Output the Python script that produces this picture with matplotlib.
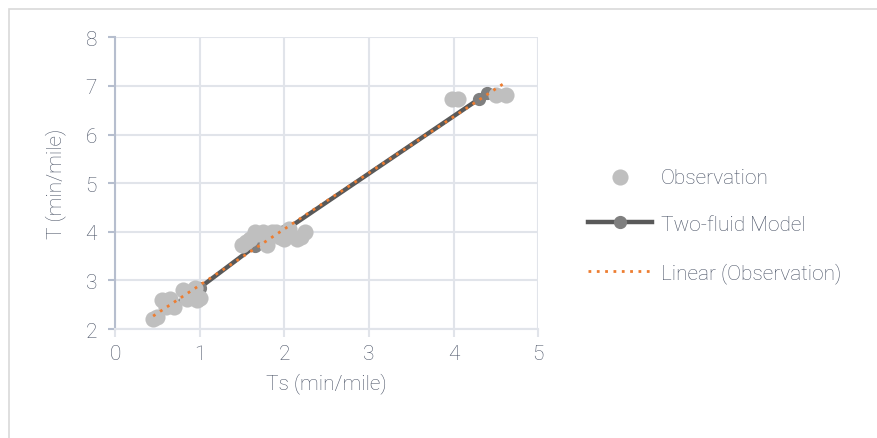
import matplotlib
matplotlib.use("Agg")
import matplotlib.pyplot as plt
from matplotlib.patches import Rectangle
import numpy as np

plt.rcParams['font.family'] = ['Roboto', 'DejaVu Sans']
plt.rcParams['font.weight'] = 'light'
plt.rcParams['axes.labelweight'] = 'light'

# observed travel time vs. stopped time
ts_obs = [0.45, 0.50, 0.55, 0.60, 0.65, 0.70, 0.80, 0.85, 0.90, 0.95, 0.97, 1.00,
          1.50, 1.55, 1.60, 1.65, 1.70, 1.75, 1.80, 1.85, 1.90, 1.95, 2.00, 2.05,
          2.15, 2.20, 2.25,
          3.98, 4.05, 4.50, 4.62]
t_obs = [2.20, 2.25, 2.60, 2.45, 2.62, 2.45, 2.80, 2.62, 2.72, 2.85, 2.60, 2.65,
         3.72, 3.80, 3.85, 4.00, 3.95, 4.00, 3.72, 4.00, 4.00, 3.90, 3.85, 4.05,
         3.85, 3.90, 4.00,
         6.72, 6.72, 6.82, 6.82]

# two-fluid model predictions
ts_model = [0.45, 1.00, 1.65, 2.00, 4.30, 4.40]
t_model = [2.20, 2.85, 3.70, 4.02, 6.73, 6.85]

xticks = [0, 1, 2, 3, 4, 5]
yticks = [2, 3, 4, 5, 6, 7, 8]

text_c = '#4a5366'
grid_c = '#e1e4ea'
axis_c = '#b6bece'
fs = 15

fig = plt.figure(figsize=(8.78, 4.39), dpi=100)
fig.patches.append(Rectangle((9 / 878, -0.1), 1.0, 1.1 - 10 / 439,
                             transform=fig.transFigure, fill=False,
                             edgecolor='#d9d9d9', lw=1.2))

ax = fig.add_axes([0.131, 0.248, 0.482, 0.665])

ax.plot(ts_model, t_model, color='#595959', lw=3.2, marker='o', ms=8.5,
        mfc='#7f7f7f', mec='#7f7f7f', zorder=3, label='Two-fluid Model')
ax.scatter(ts_obs, t_obs, s=135, color='#bfbfbf', zorder=4,
           label='Observation', linewidths=0)

# linear trendline through the observations
b, a = np.polyfit(ts_obs, t_obs, 1)
xs = np.array([min(ts_obs), max(ts_obs)])
ax.plot(xs, a + b * xs, color='#ed7d31', lw=2.0, ls=(0, (1, 2)), zorder=5,
        label='Linear (Observation)')

ax.set_xlim(0, 5)
ax.set_ylim(2, 8)
ax.set_xticks(xticks)
ax.set_yticks(yticks)
ax.grid(True, color=grid_c, lw=1.5, zorder=0)
ax.set_axisbelow(True)

for s in ['top', 'right']:
    ax.spines[s].set_visible(False)
ax.spines['bottom'].set_color(grid_c)
ax.spines['bottom'].set_linewidth(1.5)
ax.spines['left'].set_color(axis_c)
ax.spines['left'].set_linewidth(1.5)

ax.tick_params(axis='x', colors=grid_c, length=6, width=1.5, labelcolor=text_c,
               labelsize=fs, pad=5)
ax.tick_params(axis='y', colors=axis_c, length=5, width=1.5, labelcolor=text_c,
               labelsize=fs, pad=8)

ax.set_xlabel('Ts (min/mile)', color=text_c, fontsize=fs, labelpad=6)
ax.set_ylabel('T (min/mile)', color=text_c, fontsize=fs, labelpad=14)

handles, labels = ax.get_legend_handles_labels()
order = [1, 0, 2]
ax.legend([handles[i] for i in order], [labels[i] for i in order],
          loc='center left', bbox_to_anchor=(0.648, 0.485),
          bbox_transform=fig.transFigure, frameon=False, fontsize=fs,
          handlelength=3.1, handletextpad=0.4, labelspacing=1.35,
          labelcolor=text_c)

fig.savefig('out.png', dpi=100)
